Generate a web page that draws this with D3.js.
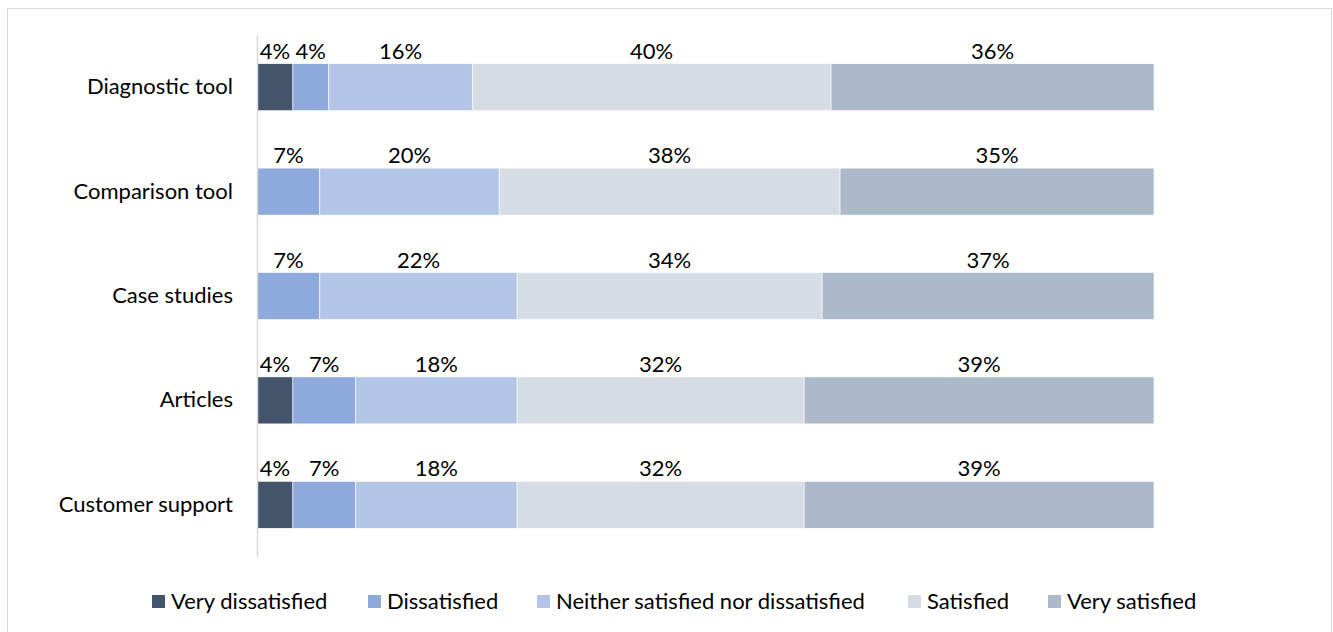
<!DOCTYPE html>
<html>
<head>
<meta charset="utf-8">
<script src="https://cdn.jsdelivr.net/npm/d3@7"></script>
<style>
  body { margin: 0; background: #fff; }
  svg { font-family: Lato, "Open Sans", sans-serif; }
</style>
</head>
<body>
<svg id="chart"></svg>
<script>
// data
let categories = ['Diagnostic tool', 'Comparison tool', 'Case studies', 'Articles', 'Customer support']
let seriesNames = ['Very dissatisfied', 'Dissatisfied', 'Neither satisfied nor dissatisfied', 'Satisfied', 'Very satisfied']
let veryDissatisfied = [4, 0, 0, 4, 4]
let dissatisfied = [4, 7, 7, 7, 7]
let neither = [16, 20, 22, 18, 18]
let satisfied = [40, 38, 34, 32, 32]
let verySatisfied = [36, 35, 37, 39, 39]
let colors = ['#44546A', '#8EA9DB', '#B4C6E7', '#D6DCE4', '#ACB9CA']

let width = 1333
let height = 632
let fontSize = '22px'

let svg = d3.select('#chart').attr('width', width).attr('height', height)

// outer chart frame
svg.append('rect')
  .attr('x', 7.5).attr('y', 8.5)
  .attr('width', 1324).attr('height', 640)
  .attr('fill', 'none').attr('stroke', '#d9d9d9').attr('stroke-width', 1)

let rows = categories.map((c, i) => {
  let r = { name: c }
  r[seriesNames[0]] = veryDissatisfied[i]
  r[seriesNames[1]] = dissatisfied[i]
  r[seriesNames[2]] = neither[i]
  r[seriesNames[3]] = satisfied[i]
  r[seriesNames[4]] = verySatisfied[i]
  return r
})

let stacked = d3.stack().keys(seriesNames)(rows)

let xScale = d3.scaleLinear().domain([0, 100]).range([257, 1154])
let yScale = d3.scaleBand().domain(categories).range([35, 557]).paddingInner(0.55).paddingOuter(0.275)
let color = d3.scaleOrdinal().domain(seriesNames).range(colors)

// bars
let layers = svg.append('g').selectAll('g')
  .data(stacked)
  .enter()
  .append('g')
  .attr('fill', (d) => color(d.key))

layers.selectAll('rect')
  .data((d) => d.filter((p) => p[1] - p[0] > 0))
  .enter()
  .append('rect')
  .attr('x', (p) => xScale(p[0]))
  .attr('y', (p) => yScale(p.data.name))
  .attr('width', (p) => xScale(p[1]) - xScale(p[0]))
  .attr('height', yScale.bandwidth())
  .attr('stroke', '#fff')
  .attr('stroke-width', 0.6)

// value labels above each segment
layers.selectAll('text')
  .data((d) => d.filter((p) => p[1] - p[0] > 0))
  .enter()
  .append('text')
  .attr('x', (p) => (xScale(p[0]) + xScale(p[1])) / 2)
  .attr('y', (p) => yScale(p.data.name) - 5)
  .attr('text-anchor', 'middle')
  .attr('fill', '#000')
  .style('font-size', fontSize)
  .text((p) => (p[1] - p[0]) + '%')

// y axis line + category labels
let yAxis = d3.axisLeft(yScale).tickSize(0).tickPadding(24)
let yG = svg.append('g')
  .attr('transform', 'translate(257,0)')
  .call(yAxis)
yG.select('.domain').attr('stroke', '#d9d9d9').attr('stroke-width', 1.5)
yG.selectAll('text')
  .style('font-size', fontSize)
  .style('font-family', 'Lato, "Open Sans", sans-serif')
  .attr('fill', '#000')

// legend
let legendX = [152, 368, 537, 908, 1048]
let legend = svg.append('g').selectAll('g')
  .data(seriesNames)
  .enter()
  .append('g')
  .attr('transform', (d, i) => `translate(${legendX[i]},595)`)

legend.append('rect')
  .attr('width', 13).attr('height', 13)
  .attr('fill', (d) => color(d))

legend.append('text')
  .attr('x', 19).attr('y', 14)
  .style('font-size', fontSize)
  .attr('fill', '#000')
  .text((d) => d)
</script>
</body>
</html>
